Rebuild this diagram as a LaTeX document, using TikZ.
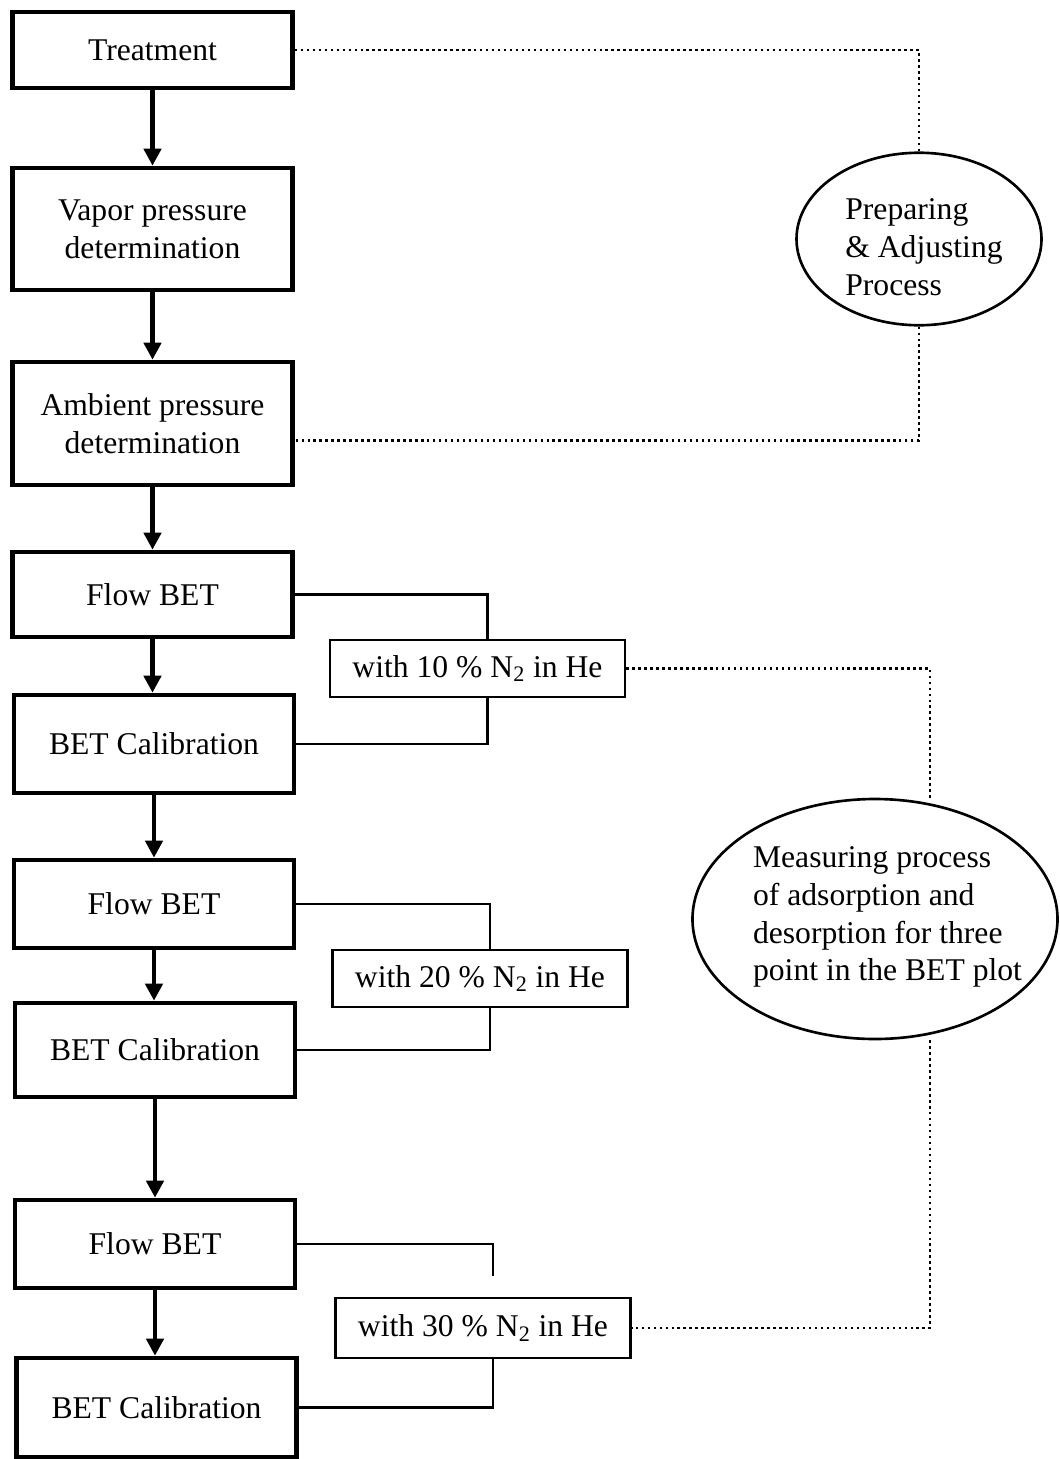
\documentclass[tikz,border=0pt]{standalone}
\usepackage{fontspec}
\setmainfont{Liberation Serif}
\usetikzlibrary{positioning,arrows.meta,shapes.geometric}

\begin{document}
\begin{tikzpicture}[font=\fontsize{18}{21.5}\selectfont,stage/.style={draw,line width=2.6pt,minimum width=5.6cm,align=center,inner sep=2pt},gas/.style={draw,line width=1.6pt,minimum width=5.9cm,minimum height=1.14cm,inner sep=2pt},bubble/.style={draw,ellipse,line width=1.5pt,inner sep=0pt},flow/.style={-{Triangle[length=3.4mm,width=3.4mm]},line width=2.6pt},link/.style={line width=1.6pt},dots/.style={line width=1.4pt,dash pattern=on 1.4pt off 2pt}]
\useasboundingbox (0,0) rectangle (21.18,-29.18);
% main chain
\node[stage,minimum height=1.52cm] (treat) at (3.05,-1.00) {Treatment};
\node[stage,minimum height=2.44cm] (vapor) at (3.05,-4.58) {Vapor pressure\\determination};
\node[stage,minimum height=2.46cm] (amb) at (3.05,-8.47) {Ambient pressure\\determination};
\node[stage,minimum height=1.70cm] (flow1) at (3.05,-11.89) {Flow BET};
\node[stage,minimum height=1.96cm] (cal1) at (3.08,-14.88) {BET Calibration};
\node[stage,minimum height=1.76cm] (flow2) at (3.08,-18.08) {Flow BET};
\node[stage,minimum height=1.88cm] (cal2) at (3.10,-21.00) {BET Calibration};
\node[stage,minimum height=1.76cm] (flow3) at (3.10,-24.88) {Flow BET};
\node[stage,minimum height=1.98cm] (cal3) at (3.13,-28.15) {BET Calibration};
% gas mixtures
\node[gas] (n10) at (9.55,-13.37) {with 10 \% N\textsubscript{2} in He};
\node[gas] (n20) at (9.60,-19.57) {with 20 \% N\textsubscript{2} in He};
\node[gas,minimum height=1.2cm] (n30) at (9.66,-26.56) {with 30 \% N\textsubscript{2} in He};
\coordinate (gap3) at ([xshift=0.2cm,yshift=0.42cm]n30.north);
% process ellipses
\node[bubble,minimum width=4.9cm,minimum height=3.45cm] (prep) at (18.38,-4.78) {};
\node[align=left] (prep-t) at (18.48,-4.94) {Preparing\\\& Adjusting\\Process};
\node[bubble,minimum width=7.3cm,minimum height=4.8cm] (meas) at (17.50,-18.38) {};
\node[align=left] (meas-t) at (17.75,-18.34) {Measuring process\\of adsorption and\\desorption for three\\point in the BET plot};
% arrows
\draw[flow] (treat.south) -- (treat.south |- vapor.north);
\draw[flow] (vapor.south) -- (vapor.south |- amb.north);
\draw[flow] (amb.south) -- (amb.south |- flow1.north);
\draw[flow] (flow1.south) -- (flow1.south |- cal1.north);
\draw[flow] (cal1.south) -- (cal1.south |- flow2.north);
\draw[flow] (flow2.south) -- (flow2.south |- cal2.north);
\draw[flow] (cal2.south) -- (cal2.south |- flow3.north);
\draw[flow] (flow3.south) -- (flow3.south |- cal3.north);
% brackets
\draw[link] (flow1.east) -| ([xshift=0.2cm]n10.north);
\draw[link] ([xshift=0.2cm]n10.south) |- (cal1.east);
\draw[link] (flow2.east) -| ([xshift=0.2cm]n20.north);
\draw[link] ([xshift=0.2cm]n20.south) |- (cal2.east);
\draw[link] (flow3.east) -| (gap3);
\draw[link] ([xshift=0.2cm]n30.south) |- (cal3.east);
% dotted links
\draw[dots] (treat.east) -| (prep.north);
\draw[dots] (prep.south) |- ([yshift=-0.34cm]amb.east);
\draw[dots] (n10.east) -| ([xshift=1.1cm]meas.north);
\draw[dots] ([xshift=1.1cm]meas.south) |- (n30.east);
\end{tikzpicture}
\end{document}
